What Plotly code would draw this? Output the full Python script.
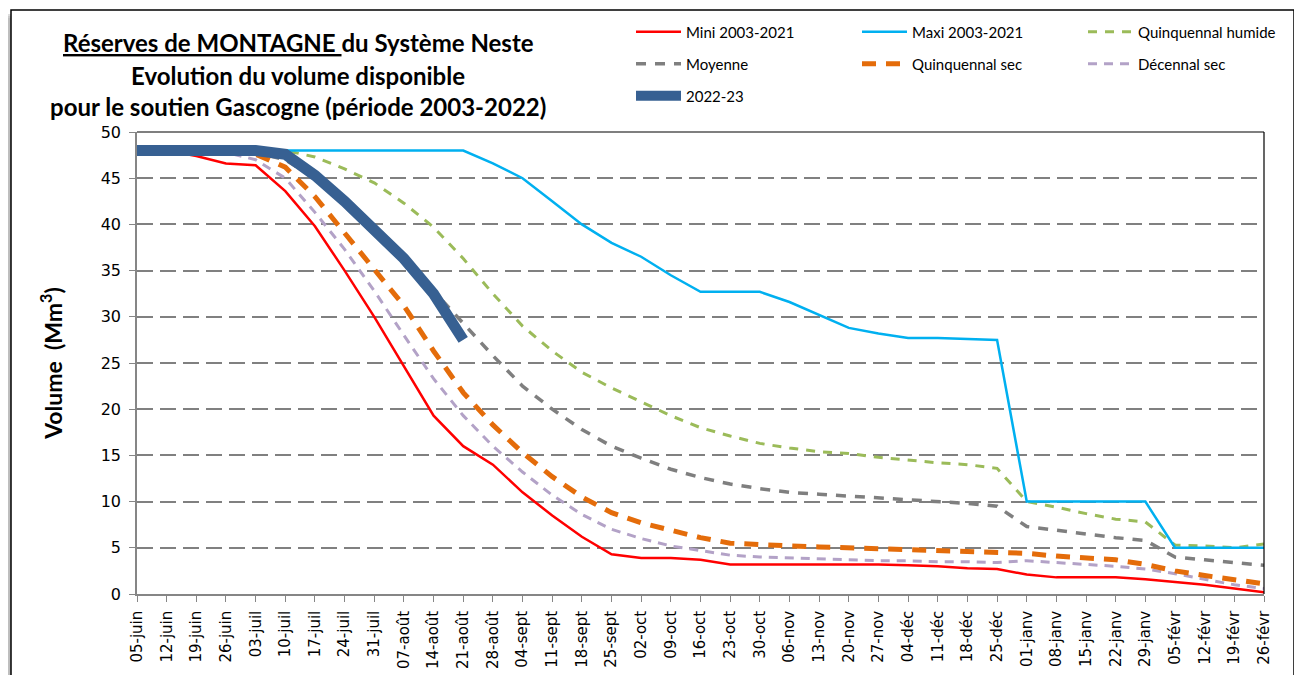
import plotly.graph_objects as go

# Weekly dates (x categories)
dates = ["05-juin", "12-juin", "19-juin", "26-juin", "03-juil", "10-juil", "17-juil",
         "24-juil", "31-juil", "07-août", "14-août", "21-août", "28-août", "04-sept",
         "11-sept", "18-sept", "25-sept", "02-oct", "09-oct", "16-oct", "23-oct",
         "30-oct", "06-nov", "13-nov", "20-nov", "27-nov", "04-déc", "11-déc",
         "18-déc", "25-déc", "01-janv", "08-janv", "15-janv", "22-janv", "29-janv",
         "05-févr", "12-févr", "19-févr", "26-févr"]

# Volumes (Mm3)
mini = [48.0, 48.0, 47.4, 46.6, 46.4, 43.6, 39.8, 35.0, 30.0, 24.6, 19.3, 16.0, 14.0,
        11.0, 8.5, 6.2, 4.3, 3.9, 3.9, 3.7, 3.2, 3.2, 3.2, 3.2, 3.2, 3.2, 3.1, 3.0,
        2.8, 2.7, 2.1, 1.8, 1.8, 1.8, 1.6, 1.3, 1.0, 0.6, 0.2]
maxi = [48.0, 48.0, 48.0, 48.0, 48.0, 48.0, 48.0, 48.0, 48.0, 48.0, 48.0, 48.0, 46.6,
        45.0, 42.5, 40.0, 38.0, 36.5, 34.5, 32.7, 32.7, 32.7, 31.6, 30.2, 28.8, 28.2,
        27.7, 27.7, 27.6, 27.5, 10.0, 10.0, 10.0, 10.0, 10.0, 5.0, 5.0, 5.0, 5.0]
quinq_humide = [48.0, 48.0, 48.0, 48.0, 48.0, 48.0, 47.3, 46.0, 44.5, 42.3, 39.7, 36.3,
                32.5, 29.0, 26.3, 24.0, 22.3, 20.8, 19.3, 18.0, 17.1, 16.3, 15.8, 15.4,
                15.2, 14.8, 14.5, 14.2, 14.0, 13.6, 10.0, 9.4, 8.7, 8.1, 7.8, 5.3, 5.2,
                5.0, 5.4]
moyenne = [48.0, 48.0, 48.0, 48.0, 47.8, 47.0, 45.0, 42.0, 39.0, 36.0, 32.8, 29.3, 25.8,
           22.5, 20.0, 17.8, 16.0, 14.7, 13.5, 12.6, 11.9, 11.4, 11.0, 10.8, 10.6, 10.4,
           10.2, 10.0, 9.8, 9.5, 7.3, 6.9, 6.5, 6.1, 5.8, 4.0, 3.7, 3.4, 3.1]
quinq_sec = [48.0, 48.0, 48.0, 48.0, 47.6, 46.2, 43.0, 39.0, 35.0, 31.2, 26.3, 21.8, 18.3,
             15.3, 12.7, 10.5, 8.8, 7.7, 6.9, 6.1, 5.5, 5.3, 5.2, 5.1, 5.0, 4.9, 4.8,
             4.8, 4.7, 4.6, 4.4, 4.1, 3.9, 3.7, 3.2, 2.5, 2.0, 1.6, 1.1]
decennal_sec = [48.0, 48.0, 48.0, 47.8, 47.0, 45.0, 41.3, 37.3, 32.8, 28.0, 23.3, 19.3,
                16.0, 13.2, 10.7, 8.6, 7.0, 6.0, 5.2, 4.7, 4.2, 4.0, 3.9, 3.8, 3.7, 3.6,
                3.6, 3.5, 3.5, 3.4, 3.6, 3.4, 3.2, 3.0, 2.7, 2.2, 1.6, 1.0, 0.6]
saison_2022 = [48.0, 48.0, 48.0, 48.0, 48.0, 47.6, 45.3, 42.5, 39.3, 36.3, 32.5, 27.5]

# page adds an 8px body margin, so work in "screen" pixels minus OFF
OFF = 8
W, H = 1302 - OFF, 675 - OFF
ML, MT = 137 - OFF, 132 - OFF
MR = W - (1264 - OFF)
MB = H - (594 - OFF)
PW, PH = W - ML - MR, H - MT - MB

def px_x(p):
    return (p - OFF - ML) / PW

def px_y(p):
    return (H - MB - (p - OFF)) / PH

fig = go.Figure()

# draw order: background lines first, current season on top
series = [
    ("Décennal sec", decennal_sec, "#B3A2C7", 3, "9px,7px", "legend2"),
    ("Quinquennal sec", quinq_sec, "#E46C0A", 5, "14px,10px", "legend2"),
    ("Moyenne", moyenne, "#7F7F7F", 3.5, "10px,9px", "legend2"),
    ("Quinquennal humide", quinq_humide, "#9BBB59", 3, "9px,8px", "legend"),
    ("Maxi 2003-2021", maxi, "#00B0F0", 2.5, "solid", "legend"),
    ("Mini 2003-2021", mini, "#FF0000", 2.5, "solid", "legend"),
]
legend_rank = {"Mini 2003-2021": 1, "Maxi 2003-2021": 2, "Quinquennal humide": 3,
               "Moyenne": 1, "Quinquennal sec": 2, "Décennal sec": 3}

for name, vals, color, width, dash, leg in series:
    fig.add_trace(go.Scatter(
        x=dates, y=vals, name=name, mode="lines",
        line=dict(color=color, width=width, dash=dash),
        legend=leg, legendrank=legend_rank[name],
    ))

fig.add_trace(go.Scatter(
    x=dates[:len(saison_2022)], y=saison_2022, name="2022-23", mode="lines",
    line=dict(color="#376092", width=11), legend="legend3",
))

# frame with soft shadow
shapes = []
fl, ft, fr, fb = 11, 10, 1294, 720
for off, op in [(8, 0.10), (6, 0.15), (4, 0.2)]:
    shapes.append(dict(type="rect", xref="paper", yref="paper", layer="below",
                       x0=px_x(fl - off), x1=px_x(fr - off), y0=px_y(fb + off), y1=px_y(ft + off),
                       fillcolor=f"rgba(90,90,90,{op})", line=dict(width=0)))
shapes.append(dict(type="rect", xref="paper", yref="paper", layer="below",
                   x0=px_x(fl), x1=px_x(fr), y0=px_y(fb), y1=px_y(ft),
                   fillcolor="white", line=dict(color="black", width=1.5)))
# plot area border (top / right)
shapes.append(dict(type="line", xref="paper", yref="paper", x0=0, x1=1, y0=1, y1=1,
                   line=dict(color="black", width=1.2)))
shapes.append(dict(type="line", xref="paper", yref="paper", x0=1, x1=1, y0=0, y1=1,
                   line=dict(color="black", width=1.2)))

title_font = dict(family="Lato", size=24, color="black")
title_lines = [
    ("<b><u>Réserves de MONTAGNE </u>du Système Neste</b>", 43),
    ("<b>Evolution du volume disponible</b>", 75),
    ("<b>pour le soutien Gascogne (période 2003-2022)</b>", 106),
]
annotations = [dict(text=t, x=px_x(298), y=px_y(py), xref="paper", yref="paper",
                    showarrow=False, font=title_font, xanchor="center", yanchor="middle")
               for t, py in title_lines]

leg_common = dict(orientation="h", xref="container", yref="container",
                  xanchor="left", yanchor="middle", bgcolor="rgba(0,0,0,0)",
                  font=dict(family="Lato", size=15, color="black"),
                  entrywidth=166, entrywidthmode="pixels", itemwidth=45,
                  traceorder="normal")

fig.update_layout(
    width=W, height=H,
    margin=dict(l=ML, r=MR, t=MT, b=MB, autoexpand=False),
    paper_bgcolor="white", plot_bgcolor="rgba(0,0,0,0)",
    shapes=shapes, annotations=annotations,
    legend=dict(x=(631 - OFF) / W, y=1 - (32 - OFF) / H, **leg_common),
    legend2=dict(x=(631 - OFF) / W, y=1 - (64 - OFF) / H, **leg_common),
    legend3=dict(x=(631 - OFF) / W, y=1 - (96 - OFF) / H, **leg_common),
    xaxis=dict(
        type="category", range=[0, len(dates) - 1], automargin=False,
        tickangle=-90, tickfont=dict(family="DejaVu Sans", size=15, color="black"),
        ticks="outside", ticklen=6, tickcolor="#868686", ticklabelstandoff=3,
        showline=True, linecolor="#868686", linewidth=1.5,
        showgrid=False,
    ),
    yaxis=dict(
        range=[0, 50], dtick=5, automargin=False,
        tickfont=dict(family="DejaVu Sans", size=16, color="black"),
        ticks="outside", ticklen=6, tickcolor="#868686", ticklabelstandoff=5,
        showline=True, linecolor="#868686", linewidth=1.5,
        showgrid=True, gridcolor="#808080", gridwidth=1.5, griddash="16px,7px",
        zeroline=False,
        title=dict(text="<b>Volume  (Mm<sup>3</sup>)</b>",
                   font=dict(family="Lato", size=23, color="black"), standoff=32),
    ),
)

fig.write_html("out.html")
